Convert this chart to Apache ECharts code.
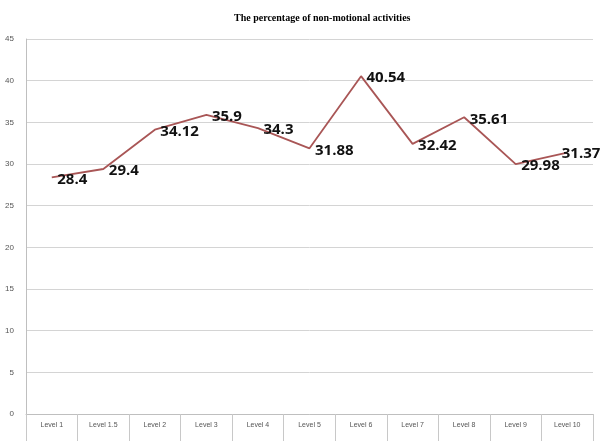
<!DOCTYPE html>
<html><head><meta charset="utf-8">
<script src="https://cdn.jsdelivr.net/npm/echarts@6/dist/echarts.min.js"></script>
<style>html,body{margin:0;padding:0;background:#fff}#c{width:602px;height:441px}</style>
</head><body><div id="c"></div>
<script>
const categories = ['Level 1','Level 1.5','Level 2','Level 3','Level 4','Level 5','Level 6','Level 7','Level 8','Level 9','Level 10'];
const values = [28.4, 29.4, 34.12, 35.9, 34.3, 31.88, 40.54, 32.42, 35.61, 29.98, 31.37];
const titleText = 'The percentage of non-motional activities';

const seriesData = values.map((v, i) => i === values.length - 1
  ? {value: v, label: {offset: [-11, 1]}}
  : v);

const chart = echarts.init(document.getElementById('c'));
chart.setOption({
  animation: false,
  backgroundColor: '#fff',
  title: {
    text: titleText, left: 229, top: 8,
    textStyle: {fontFamily: 'Liberation Serif', fontWeight: 'bold', fontSize: 10, color: '#000'}
  },
  grid: {left: 26, right: 9, top: 39, bottom: 27},
  xAxis: {
    type: 'category', data: categories, boundaryGap: true,
    axisLine: {lineStyle: {color: '#bfbfbf', width: 1}},
    axisTick: {show: true, length: 27, interval: 0, lineStyle: {color: '#c8c8c8'}},
    axisLabel: {interval: 0, fontSize: 7, color: '#555', fontFamily: 'Liberation Sans', margin: 8}
  },
  yAxis: {
    type: 'value', min: 0, max: 45, interval: 5,
    axisLine: {show: true, lineStyle: {color: '#bfbfbf'}},
    axisTick: {show: false},
    axisLabel: {fontSize: 8, color: '#555', fontFamily: 'Liberation Sans', margin: 12},
    splitLine: {lineStyle: {color: '#d4d4d4', width: 1}}
  },
  series: [{
    type: 'line', data: seriesData, symbol: 'circle', symbolSize: 1, showSymbol: true,
    itemStyle: {color: 'rgba(0,0,0,0)'},
    lineStyle: {color: '#a95656', width: 1.8},
    label: {
      show: true, position: 'right', distance: 5, offset: [0, 2],
      fontSize: 15, fontWeight: 'bold', color: '#111', fontFamily: 'Open Sans'
    }
  }]
});
</script></body></html>
